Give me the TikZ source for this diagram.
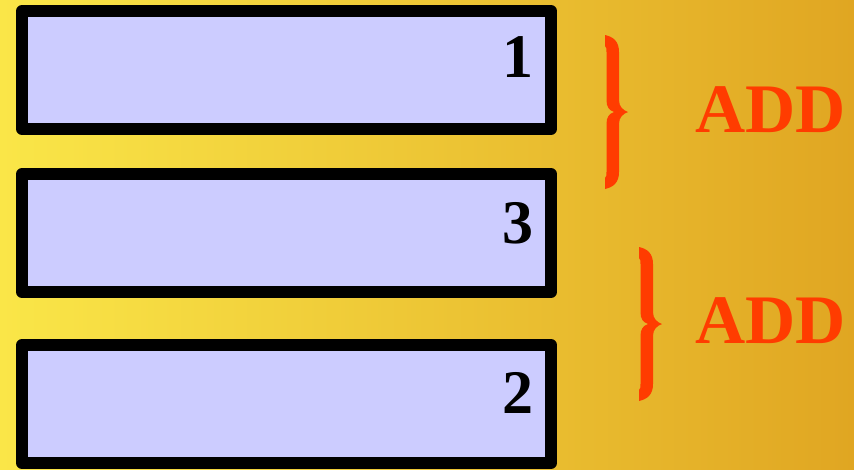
\documentclass[tikz,border=0pt]{standalone}
\usepackage{fontspec}
\setmainfont{Liberation Serif}
\definecolor{bgL}{RGB}{250,230,72}
\definecolor{bgR}{RGB}{224,166,34}
\definecolor{boxfill}{RGB}{204,204,255}
\definecolor{addred}{RGB}{255,60,0}
\tikzset{
  box/.style={draw=black, line width=12pt, line join=round, fill=boxfill,
    minimum width=529pt, minimum height=118pt, inner sep=0pt},
  num/.style={font=\fontsize{62}{62}\selectfont\bfseries, anchor=base east, inner sep=0pt},
  addlbl/.style={font=\fontsize{69.5}{69.5}\selectfont\bfseries, text=addred, anchor=base west, inner sep=0pt},
  bracepic/.pic={
    \fill[addred] (0,0) .. controls (9,2) and (14,7) .. (14,17) -- (14,65)
      .. controls (14,72) and (18,75) .. (23,77)
      .. controls (18,79) and (14,82) .. (14,89) -- (14,137)
      .. controls (14,147) and (9,152) .. (0,154) -- (0,143)
      .. controls (1.5,142) and (1.5,140) .. (1.5,137) -- (1.5,89)
      .. controls (1.5,82) and (4,79) .. (9,77)
      .. controls (4,75) and (1.5,72) .. (1.5,65) -- (1.5,17)
      .. controls (1.5,14) and (1.5,12) .. (0,11) -- cycle;
  }
}
\begin{document}
\begin{tikzpicture}[x=1pt,y=-1pt]
\useasboundingbox (0,0) rectangle (854,469);
\shade[left color=bgL, right color=bgR] (0,0) rectangle (854,469);
\node[box] (b1) at (286.5,70) {};
\node[box] (b3) at (286.5,233) {};
\node[box] (b2) at (286.5,404) {};
\node[num] (n1) at (534,77) {1};
\node[num] (n3) at (534,243) {3};
\node[num] (n2) at (534,413) {2};
\pic (br1) at (605,35) {bracepic};
\pic (br2) at (639,247) {bracepic};
\node[addlbl] (a1) at (695,132) {ADD};
\node[addlbl] (a2) at (695,343) {ADD};
\end{tikzpicture}
\end{document}
